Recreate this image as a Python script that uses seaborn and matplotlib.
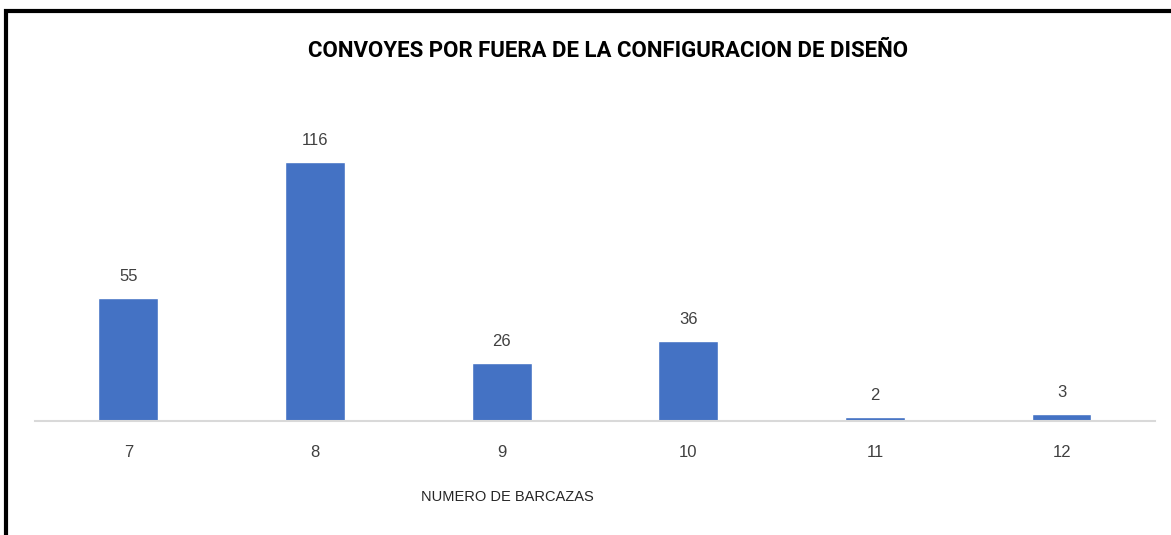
import matplotlib
matplotlib.use("Agg")
import matplotlib.pyplot as plt
import seaborn as sns
import pandas as pd
from matplotlib.patches import Rectangle

# data
barcazas = ["7", "8", "9", "10", "11", "12"]
convoyes = [55, 116, 26, 36, 2, 3]

df = pd.DataFrame({"barcazas": barcazas, "convoyes": convoyes})

sns.set_style("white")
plt.rcParams["font.family"] = ["Liberation Sans", "DejaVu Sans"]

fig = plt.figure(figsize=(11.71, 5.35), dpi=100)
ax = fig.add_axes([0.0299, 0.2131, 0.9564, 0.5843])

sns.barplot(data=df, x="barcazas", y="convoyes", color="#4472C4",
            width=0.32, saturation=1, ax=ax)

# value labels above the bars
for cont in ax.containers:
    ax.bar_label(cont, padding=10, fontsize=12, color="#404040")

ax.set_ylim(0, 140)
ax.set_xlim(-0.5, 5.5)
ax.set_yticks([])
ax.set_xlabel("")
ax.set_ylabel("")
for s in ["top", "right", "left"]:
    ax.spines[s].set_visible(False)
ax.spines["bottom"].set_color("#d9d9d9")
ax.spines["bottom"].set_linewidth(1.5)
ax.tick_params(axis="x", length=0, pad=17, labelsize=12, labelcolor="#404040")

fig.text(0.519, 0.904, "CONVOYES POR FUERA DE LA CONFIGURACION DE DISEÑO",
         ha="center", va="center", fontsize=16, fontweight="bold",
         family=["Roboto", "DejaVu Sans"], color="black")
fig.text(0.433, 0.071, "NUMERO DE BARCAZAS", ha="center", va="center",
         fontsize=10.5, color="#262626")

# black frame around the chart area
fig.patches.append(Rectangle((0.005, -0.05), 1.2, 1.03, transform=fig.transFigure,
                             fill=False, edgecolor="black", linewidth=3))

fig.savefig("out.png", dpi=100)
